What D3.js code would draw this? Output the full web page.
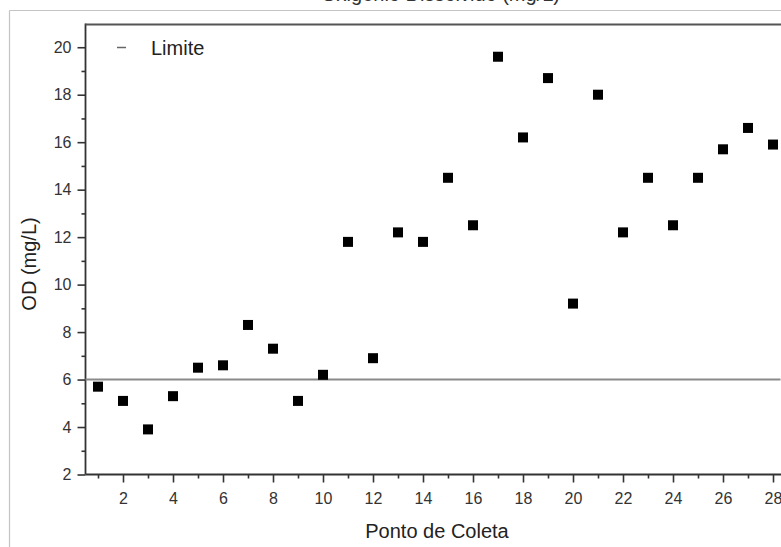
<script src="https://cdn.jsdelivr.net/npm/d3@7"></script>
<body style="margin: 0; background: white;">
<svg id="vis"></svg>
</body>
<script>

  /***** DATA *****/

  var pontos = [1, 2, 3, 4, 5, 6, 7, 8, 9, 10, 11, 12, 13, 14, 15, 16, 17, 18, 19, 20, 21, 22, 23, 24, 25, 26, 27, 28]
  var od = [5.7, 5.1, 3.9, 5.3, 6.5, 6.6, 8.3, 7.3, 5.1, 6.2, 11.8, 6.9, 12.2, 11.8, 14.5, 12.5, 19.6, 16.2, 18.7, 9.2, 18.0, 12.2, 14.5, 12.5, 14.5, 15.7, 16.6, 15.9]
  var limite = 6

  var xMajor = [2, 4, 6, 8, 10, 12, 14, 16, 18, 20, 22, 24, 26, 28]
  var xMinor = [1, 3, 5, 7, 9, 11, 13, 15, 17, 19, 21, 23, 25, 27]
  var yMajor = [2, 4, 6, 8, 10, 12, 14, 16, 18, 20]
  var yMinor = [3, 5, 7, 9, 11, 13, 15, 17, 19]

  /***** SETUP *****/

  var width = 781
  var height = 547
  var font = 'Arial, "Liberation Sans", sans-serif'

  var svg = d3.select('#vis')
    .attr('width', width)
    .attr('height', height)
    .style('display', 'block')

  var x = d3.scaleLinear().domain([0.5, 28.5]).range([85.5, 785.5])
  var y = d3.scaleLinear().domain([2, 21]).range([474.5, 23.5])

  // screenshot frame
  svg.append('line')
    .attr('x1', 9.5).attr('y1', 10.5).attr('x2', 9.5).attr('y2', height)
    .style('stroke', '#c4c4c4').style('stroke-width', 1.2)
  svg.append('line')
    .attr('x1', 9.5).attr('y1', 10.5).attr('x2', width).attr('y2', 10.5)
    .style('stroke', '#c4c4c4').style('stroke-width', 1.2)

  // title above the frame, cut by the screenshot edge
  svg.append('text')
    .text('Oxigênio Dissolvido (mg/L)')
    .attr('x', 560)
    .attr('y', 1)
    .attr('text-anchor', 'end')
    .style('font-family', font)
    .style('font-size', 20)
    .style('fill', '#333')

  /***** AXES *****/

  function styleAxis(g) {
    g.select('.domain').remove()
    g.selectAll('.tick line').style('stroke', '#333').style('stroke-width', 1.6)
    g.selectAll('.tick text')
      .style('font-family', font)
      .style('font-size', 16)
      .style('fill', '#333')
  }

  svg.append('g')
    .attr('transform', 'translate(0,' + y(2) + ')')
    .call(d3.axisBottom(x).tickValues(xMinor).tickSize(4).tickFormat(''))
    .call(styleAxis)

  svg.append('g')
    .attr('transform', 'translate(0,' + y(2) + ')')
    .call(d3.axisBottom(x).tickValues(xMajor).tickSize(8).tickPadding(10))
    .call(styleAxis)

  svg.append('g')
    .attr('transform', 'translate(' + x(0.5) + ',0)')
    .call(d3.axisLeft(y).tickValues(yMinor).tickSize(4).tickFormat(''))
    .call(styleAxis)

  svg.append('g')
    .attr('transform', 'translate(' + x(0.5) + ',0)')
    .call(d3.axisLeft(y).tickValues(yMajor).tickSize(8).tickPadding(6))
    .call(styleAxis)

  // frame lines
  svg.append('line')
    .attr('x1', x(0.5)).attr('y1', y(21)).attr('x2', x(0.5)).attr('y2', y(2))
    .style('stroke', '#333').style('stroke-width', 1.8)
  svg.append('line')
    .attr('x1', x(0.5)).attr('y1', y(2)).attr('x2', x(28.5)).attr('y2', y(2))
    .style('stroke', '#333').style('stroke-width', 1.8)
  svg.append('line')
    .attr('x1', x(0.5)).attr('y1', y(21) + 1).attr('x2', x(28.5)).attr('y2', y(21) + 1)
    .style('stroke', '#555').style('stroke-width', 2.2)

  /***** LIMIT LINE *****/

  svg.append('line')
    .attr('x1', x(0.5)).attr('x2', x(28.5) - 5)
    .attr('y1', y(limite)).attr('y2', y(limite))
    .style('stroke', '#8a8a8a').style('stroke-width', 2)

  /***** POINTS *****/

  var s = 10
  svg.selectAll('rect.pt')
    .data(od)
    .enter()
    .append('rect')
    .attr('class', 'pt')
    .attr('x', function(d, i) { return x(pontos[i]) - s / 2 })
    .attr('y', function(d) { return y(d) - s / 2 })
    .attr('width', s)
    .attr('height', s)
    .attr('fill', '#000')

  /***** LEGEND *****/

  svg.append('line')
    .attr('x1', 117).attr('x2', 126).attr('y1', 47.5).attr('y2', 47.5)
    .style('stroke', '#666').style('stroke-width', 1.5)

  svg.append('text')
    .text('Limite')
    .attr('x', 151)
    .attr('y', 55)
    .style('font-family', font)
    .style('font-size', 20)
    .style('fill', '#222')

  /***** AXIS TITLES *****/

  svg.append('text')
    .text('Ponto de Coleta')
    .attr('x', 437)
    .attr('y', 538)
    .attr('text-anchor', 'middle')
    .style('font-family', font)
    .style('font-size', 20)
    .style('fill', '#222')

  svg.append('text')
    .text('OD (mg/L)')
    .attr('transform', 'translate(36,264) rotate(-90)')
    .attr('text-anchor', 'middle')
    .style('font-family', font)
    .style('font-size', 20)
    .style('fill', '#222')

</script>
